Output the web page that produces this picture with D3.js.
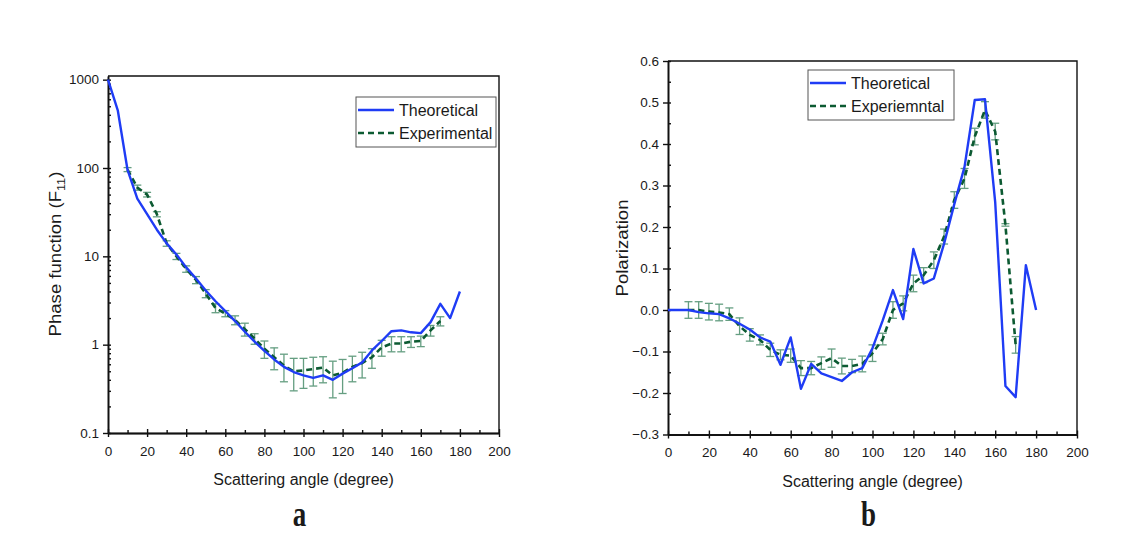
<!DOCTYPE html>
<html>
<head>
<meta charset="utf-8">
<script src="https://cdn.jsdelivr.net/npm/d3@7"></script>
<style>
body { margin: 0; background: #fff; }
text { font-family: "Liberation Sans", Arial, sans-serif; fill: #1a1a1a; }
.axis path, .axis line { stroke: #111; stroke-width: 1.4; }
.axis text { font-size: 13.5px; }
</style>
</head>
<body>
<svg id="fig" width="1148" height="535"></svg>
<script>

// ---- panel a : phase function F11 (log scale) ----
var theoAngle = [0,5,10,15,20,25,30,35,40,45,50,55,60,65,70,75,80,85,90,95,100,105,110,115,120,125,130,135,140,145,150,155,160,165,170,175,180];
var theoF11 = [1000,450,95,45,30,20,14,10.5,7.5,5.6,4.1,3.1,2.4,1.85,1.4,1.08,0.85,0.68,0.56,0.49,0.45,0.42,0.45,0.40,0.47,0.54,0.63,0.86,1.1,1.42,1.45,1.38,1.35,1.8,2.9,2.0,4.0];

var expAngle = [10,15,20,25,30,35,40,45,50,55,60,65,70,75,80,85,90,95,100,105,110,115,120,125,130,135,140,145,150,155,160,165,170];
var expF11 = [96,60,50,30,14,10,7.2,5.4,3.8,2.6,2.25,1.9,1.5,1.17,0.9,0.72,0.58,0.5,0.51,0.53,0.55,0.45,0.48,0.56,0.62,0.72,0.93,1.03,1.03,1.08,1.1,1.45,1.85];
var expF11Err = [5,4,3,2,1,0.8,0.6,0.5,0.4,0.3,0.18,0.22,0.25,0.16,0.2,0.2,0.2,0.2,0.19,0.19,0.18,0.2,0.2,0.18,0.2,0.18,0.19,0.2,0.2,0.15,0.15,0.2,0.22];

var f11Ticks = [0.1,1,10,100,1000];

// ---- panel b : polarization ----
var theoPol = [0,0,0,-0.005,-0.008,-0.01,-0.02,-0.033,-0.047,-0.066,-0.076,-0.132,-0.066,-0.19,-0.13,-0.153,-0.162,-0.171,-0.15,-0.14,-0.092,-0.025,0.048,-0.022,0.147,0.064,0.076,0.16,0.255,0.345,0.506,0.508,0.26,-0.183,-0.21,0.108,0];
var expPol = [0,0,-0.004,-0.006,-0.01,-0.039,-0.06,-0.072,-0.096,-0.108,-0.11,-0.14,-0.14,-0.128,-0.116,-0.135,-0.135,-0.13,-0.104,-0.07,0,0.016,0.064,0.084,0.12,0.177,0.265,0.317,0.418,0.482,0.43,0.205,-0.084];
var expPolErr = [0.02,0.02,0.02,0.02,0.015,0.02,0.015,0.012,0.016,0.012,0.016,0.018,0.016,0.015,0.022,0.019,0.016,0.019,0.02,0.014,0.02,0.018,0.02,0.018,0.02,0.018,0.02,0.024,0.02,0.02,0.02,0.003,0.02];

var polTicks = [-0.3,-0.2,-0.1,0,0.1,0.2,0.3,0.4,0.5,0.6];
var polMinor = [-0.25,-0.15,-0.05,0.05,0.15,0.25,0.35,0.45,0.55];

var angleTicks = [0,20,40,60,80,100,120,140,160,180,200];
var angleMinor = [10,30,50,70,90,110,130,150,170,190];

var theoColor = "#1f3cf5", expColor = "#0c5a32", errColor = "#2a7a52";

var svg = d3.select("#fig");

function zip(xs, ys, es) {
	return xs.map(function(a, i) { return {a: a, v: ys[i], e: es ? es[i] : 0}; });
}

function drawPanel(p) {
	var g = svg.append("g");
	var x = p.x, y = p.y;
	var x0 = x.range()[0], x1 = x.range()[1];
	var yb = y.range()[0], yt = y.range()[1];

	// frame top / right
	g.append("path")
	.attr("d", "M" + x0 + "," + yt + "H" + x1 + "V" + yb)
	.attr("fill", "none").attr("stroke", "#111").attr("stroke-width", 1.4);

	// bottom axis: majors cross the line, minors inward
	g.append("g").attr("class", "axis").attr("transform", "translate(0," + yb + ")")
	.call(d3.axisBottom(x).tickValues(angleTicks).tickSize(4).tickPadding(9).tickSizeOuter(0));
	g.append("g").attr("class", "axis").attr("transform", "translate(0," + yb + ")")
	.call(d3.axisBottom(x).tickValues(angleTicks).tickSize(-4).tickFormat("").tickSizeOuter(0));
	g.append("g").attr("class", "axis").attr("transform", "translate(0," + yb + ")")
	.call(d3.axisBottom(x).tickValues(angleMinor).tickSize(-3).tickFormat("").tickSizeOuter(0));

	// left axis
	g.append("g").attr("class", "axis").attr("transform", "translate(" + x0 + ",0)")
	.call(d3.axisLeft(y).tickValues(p.yTicks).tickSize(5).tickPadding(4).tickFormat(p.yFormat).tickSizeOuter(0));
	g.append("g").attr("class", "axis").attr("transform", "translate(" + x0 + ",0)")
	.call(d3.axisLeft(y).tickValues(p.yTicks).tickSize(-3).tickFormat("").tickSizeOuter(0));
	g.append("g").attr("class", "axis").attr("transform", "translate(" + x0 + ",0)")
	.call(d3.axisLeft(y).tickValues(p.yMinor).tickSize(-3).tickFormat("").tickSizeOuter(0));
	g.selectAll(".axis .domain").attr("stroke-width", 1.5);

	// error bars
	var eb = g.append("g").attr("stroke", errColor).attr("stroke-width", 1.3).attr("opacity", 0.72);
	p.exp.forEach(function(d) {
		if (!d.e) return;
		var lo = y(Math.max(d.v - d.e, p.floor)), hi = y(d.v + d.e), cx = x(d.a);
		eb.append("line").attr("x1", cx).attr("x2", cx).attr("y1", lo).attr("y2", hi);
		eb.append("line").attr("x1", cx - 4).attr("x2", cx + 4).attr("y1", lo).attr("y2", lo);
		eb.append("line").attr("x1", cx - 4).attr("x2", cx + 4).attr("y1", hi).attr("y2", hi);
	});

	var line = d3.line().x(function(d) { return x(d.a); }).y(function(d) { return y(d.v); });

	g.append("path").datum(p.exp).attr("d", line)
	.attr("fill", "none").attr("stroke", expColor).attr("stroke-width", 2.6).attr("stroke-dasharray", "6,4");

	g.append("path").datum(p.theo).attr("d", line)
	.attr("fill", "none").attr("stroke", theoColor).attr("stroke-width", 2.4).attr("stroke-linejoin", "round");

	// legend
	var lg = g.append("g").attr("transform", "translate(" + p.legend[0] + "," + p.legend[1] + ")");
	lg.append("rect").attr("width", p.legend[2]).attr("height", 50)
	.attr("fill", "#fff").attr("stroke", "#555").attr("stroke-width", 1);
	lg.append("line").attr("x1", 2).attr("x2", 38).attr("y1", 13).attr("y2", 13)
	.attr("stroke", theoColor).attr("stroke-width", 2.4);
	lg.append("line").attr("x1", 2).attr("x2", 38).attr("y1", 36).attr("y2", 36)
	.attr("stroke", expColor).attr("stroke-width", 2.6).attr("stroke-dasharray", "6,4");
	lg.append("text").attr("x", 43).attr("y", 19).style("font-size", "16px").text(p.names[0]);
	lg.append("text").attr("x", 43).attr("y", 42).style("font-size", "16px").text(p.names[1]);

	// axis titles
	g.append("text").attr("x", (x0 + x1) / 2).attr("y", yb + 52).attr("text-anchor", "middle")
	.style("font-size", "16px").text("Scattering angle (degree)");

	var yl = g.append("text").attr("transform", "translate(" + p.yLabelX + "," + p.yLabelY + ") rotate(-90) scale(1.16,1)")
	.attr("text-anchor", "middle").style("font-size", "16px");
	p.yLabel(yl);

	// panel letter
	svg.append("text").attr("transform", "translate(" + ((x0 + x1) / 2 - 4) + "," + p.letterY + ") scale(1,1.3)")
	.attr("text-anchor", "middle")
	.style("font-family", "'Liberation Serif','Times New Roman',serif").style("font-weight", "bold").style("font-size", "27px")
	.text(p.letter);
}

// minor ticks of the log axis, listed per decade
var f11Minor = [];
[0.1,1,10,100].forEach(function(dec) {
	[2,3,4,5,6,7,8,9].forEach(function(m) { f11Minor.push(+(dec * m).toPrecision(2)); });
});

drawPanel({
	x: d3.scaleLinear().domain([0, 200]).range([108, 499]),
	y: d3.scaleLog().domain([0.1, 1100]).range([433, 76]),
	yTicks: f11Ticks, yMinor: f11Minor,
	yFormat: function(d) { return d < 1 ? "0.1" : d3.format("d")(d); },
	floor: 0.05,
	theo: zip(theoAngle, theoF11),
	exp: zip(expAngle, expF11, expF11Err),
	legend: [356, 97, 140],
	names: ["Theoretical", "Experimental"],
	yLabelX: 61, yLabelY: 254,
	yLabel: function(t) {
		t.append("tspan").text("Phase function (F");
		t.append("tspan").attr("dy", 4).style("font-size", "11px").text("11");
		t.append("tspan").attr("dy", -4).text(")");
	},
	letter: "a", letterY: 526
});

drawPanel({
	x: d3.scaleLinear().domain([0, 200]).range([668, 1077]),
	y: d3.scaleLinear().domain([-0.3, 0.6]).range([434.5, 61]),
	yTicks: polTicks, yMinor: polMinor,
	yFormat: d3.format(".1f"),
	floor: -1,
	theo: zip(theoAngle, theoPol),
	exp: zip(expAngle, expPol, expPolErr),
	legend: [808, 70, 146],
	names: ["Theoretical", "Experiemntal"],
	yLabelX: 628, yLabelY: 248,
	yLabel: function(t) { t.text("Polarization"); },
	letter: "b", letterY: 526
});

</script>
</body>
</html>
